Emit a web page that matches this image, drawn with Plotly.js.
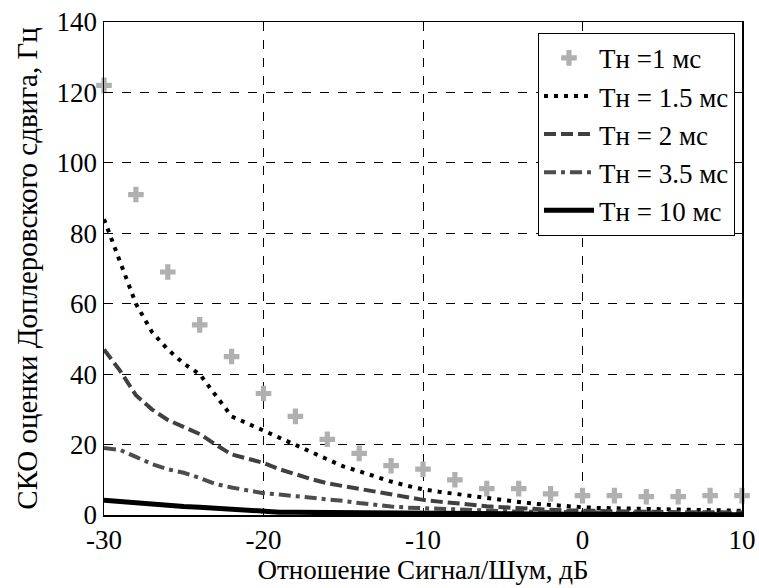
<!DOCTYPE html>
<html><head><meta charset="utf-8">
<script src="https://cdn.plot.ly/plotly-3.0.1.min.js"></script>
<style>html,body{margin:0;padding:0;background:#fff;}#c{width:759px;height:588px;}</style>
</head><body><div id="c"></div>
<script>
const snr = [-30,-29,-28,-27,-26,-25,-24,-23,-22,-21,-20,-19,-18,-17,-16,-15,-14,-13,-12,-11,-10,-9,-8,-7,-6,-5,-4,-3,-2,-1,0,1,2,3,4,5,6,7,8,9,10];
const snrMarkers = [-30,-28,-26,-24,-22,-20,-18,-16,-14,-12,-10,-8,-6,-4,-2,0,2,4,6,8,10];
const t1 = [122,91,69,54,45,34.5,28,21.5,17.5,14,13,10,7.5,7.5,6,5.5,5.5,5.2,5.2,5.5,5.5];
const t15 = [84,72,60,52,47,43,40,34,28,26,24,22,20,17.8,15.8,13.8,12.4,10.8,9.5,8.3,7.3,6.6,6,5.3,4.7,4.2,3.7,3.2,2.8,2.5,2.2,2.0,1.9,1.8,1.7,1.6,1.5,1.4,1.3,1.3,1.2];
const t2 = [47,41,34,30,27,25,23,20,17.2,16,14.8,13,11.5,10.2,9,8.2,7.4,6.5,5.8,5,4.3,3.8,3.3,2.9,2.5,2.2,1.9,1.7,1.5,1.3,1.2,1.1,1.0,0.95,0.9,0.85,0.8,0.8,0.75,0.7,0.7];
const t35 = [19,18.5,16.5,14.5,13,12,10.5,8.8,7.8,7,6.2,5.8,5.4,5,4.6,4,3.4,2.8,2.4,2.1,1.9,1.7,1.5,1.3,1.15,1.05,0.95,0.9,0.85,0.8,0.75,0.7,0.65,0.6,0.6,0.55,0.5,0.5,0.45,0.45,0.4];
const t10 = [4.2,3.8,3.3,3,2.7,2.4,2.2,1.9,1.6,1.3,0.9,0.8,0.75,0.7,0.65,0.6,0.55,0.5,0.45,0.42,0.4,0.38,0.36,0.34,0.32,0.3,0.28,0.26,0.24,0.22,0.2,0.19,0.18,0.17,0.16,0.15,0.14,0.13,0.12,0.11,0.1];
const names = ['Тн =1 мс','Тн = 1.5 мс','Тн = 2 мс','Тн = 3.5 мс','Тн = 10 мс'];
const xTicks = [-30,-20,-10,0,10];
const yTicks = [0,20,40,60,80,100,120,140];

const FAM = 'Liberation Serif';
const traces = [
  {x: snrMarkers, y: t1, name: names[0], mode:'markers', type:'scatter', cliponaxis:false,
   marker:{symbol:'cross', size:13, color:'#b0b0b0'}},
  {x: snr, y: t15, name: names[1], mode:'lines', type:'scatter',
   line:{color:'#000', width:4, dash:'4px,6px'}},
  {x: snr, y: t2, name: names[2], mode:'lines', type:'scatter',
   line:{color:'#404040', width:4, dash:'12px,5px'}},
  {x: snr, y: t35, name: names[3], mode:'lines', type:'scatter',
   line:{color:'#4d4d4d', width:4, dash:'12px,5px,4px,5px'}},
  {x: snr, y: t10, name: names[4], mode:'lines', type:'scatter',
   line:{color:'#000', width:5}}
];
const layout = {
  width:759, height:588,
  font:{family:FAM, size:24, color:'#000'},
  margin:{l:104, r:17, t:22, b:73},
  paper_bgcolor:'#fff', plot_bgcolor:'#fff',
  showlegend:true,
  xaxis:{
    showline:true, mirror:'ticks', linecolor:'#000', linewidth:1.5,
    ticks:'inside', ticklen:6, tickcolor:'#000', tickwidth:1,
    showgrid:true, gridcolor:'#000', gridwidth:1, griddash:'dash', zeroline:false,
    tickfont:{family:FAM, size:27, color:'#000'},
    range:[-30,10], tickvals:xTicks, ticktext:xTicks.map(String),
    title:{text:'Отношение Сигнал/Шум, дБ', font:{family:FAM, size:27, color:'#000'}, standoff:0}
  },
  yaxis:{
    showline:true, mirror:'ticks', linecolor:'#000', linewidth:1.5,
    ticks:'inside', ticklen:6, tickcolor:'#000', tickwidth:1,
    showgrid:true, gridcolor:'#000', gridwidth:1, griddash:'dash', zeroline:false,
    tickfont:{family:FAM, size:27, color:'#000'},
    range:[0,140], tickvals:yTicks, ticktext:yTicks.map(String),
    title:{text:'СКО оценки Доплеровского сдвига, Гц', font:{family:FAM, size:29, color:'#000'}, standoff:10}
  },
  legend:{
    x:0.989, y:0.978, xanchor:'right', yanchor:'top',
    bgcolor:'#fff', bordercolor:'#000', borderwidth:1,
    font:{family:FAM, size:27, color:'#000'},
    traceorder:'normal', itemwidth:50
  }
};
Plotly.newPlot('c', traces, layout, {displayModeBar:false, staticPlot:true});
</script>
</body></html>
